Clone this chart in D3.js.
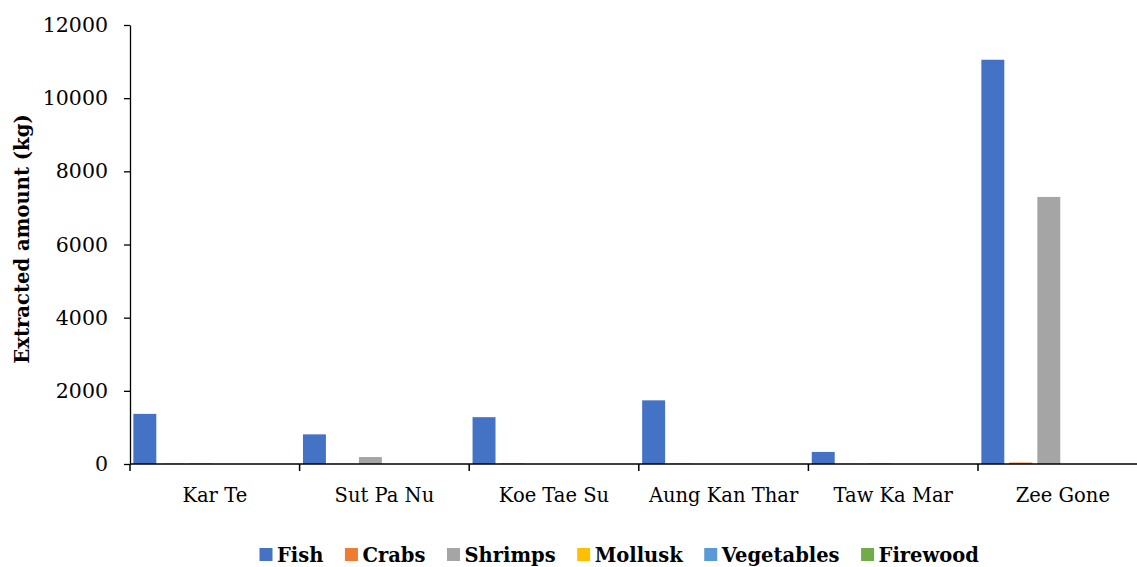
<!DOCTYPE html>
<html>
<head>
<meta charset="utf-8">
<script src="https://cdn.jsdelivr.net/npm/d3@7"></script>
<style>
  html, body { margin: 0; padding: 0; background: #fff; }
  svg { display: block; }
</style>
</head>
<body>
<svg id="chart" width="1137" height="567"></svg>
<script>
// Extracted amount per village and resource type (kg)
const villages = ["Kar Te", "Sut Pa Nu", "Koe Tae Su", "Aung Kan Thar", "Taw Ka Mar", "Zee Gone"];
const seriesNames = ["Fish", "Crabs", "Shrimps", "Mollusk", "Vegetables", "Firewood"];
const fish       = [1370, 810, 1280, 1740, 330, 11050];
const crabs      = [10, 5, 15, 15, 5, 40];
const shrimps    = [15, 190, 0, 0, 15, 7300];
const mollusk    = [0, 0, 0, 0, 0, 0];
const vegetables = [0, 0, 0, 0, 0, 0];
const firewood   = [0, 0, 0, 0, 0, 0];
const yTicks = [0, 2000, 4000, 6000, 8000, 10000, 12000];
const colors = ["#4472C4", "#ED7D31", "#A5A5A5", "#FFC000", "#5B9BD5", "#70AD47"];

const seriesValues = [fish, crabs, shrimps, mollusk, vegetables, firewood];

const svg = d3.select("#chart");
const plotLeft = 130, plotTop = 25, plotBottom = 464;
const bandW = 169.6;

const x = d3.scaleBand().domain(villages).range([plotLeft, plotLeft + bandW * villages.length]).padding(0);
const xs = d3.scaleBand().domain(seriesNames).range([0, x.bandwidth()]).paddingInner(0.18).paddingOuter(0.12);
const y = d3.scaleLinear().domain([0, 12000]).range([plotBottom, plotTop]);

const serif = "'DejaVu Serif', 'Liberation Serif', serif";

// bars
const groups = svg.append("g").selectAll("g").data(villages).join("g")
  .attr("transform", d => `translate(${x(d)},0)`);
groups.selectAll("rect")
  .data((v, i) => seriesNames.map((s, j) => ({ s, j, value: seriesValues[j][i] })))
  .join("rect")
  .attr("x", d => xs(d.s))
  .attr("width", xs.bandwidth())
  .attr("y", d => y(d.value))
  .attr("height", d => y(0) - y(d.value))
  .attr("fill", d => colors[d.j]);

// y axis
const yAxis = svg.append("g")
  .attr("transform", `translate(${plotLeft},0)`)
  .call(d3.axisLeft(y).tickValues(yTicks).tickFormat(d3.format("d")).tickSize(6).tickSizeOuter(0).tickPadding(16));
yAxis.select(".domain").attr("stroke", "#000").attr("stroke-width", 1.3);
yAxis.selectAll(".tick line").attr("stroke", "#000").attr("stroke-width", 1.3);
yAxis.selectAll(".tick text").attr("font-family", serif).attr("font-size", 20.5).attr("fill", "#000");

// x axis: category boundaries as ticks, labels centered in each band
const xAxisG = svg.append("g").attr("transform", `translate(0,${plotBottom})`);
xAxisG.append("line")
  .attr("x1", plotLeft).attr("x2", x.range()[1])
  .attr("stroke", "#000").attr("stroke-width", 1.5);
const bounds = villages.map(v => x(v)).concat([x.range()[1]]);
xAxisG.selectAll("line.tk").data(bounds).join("line")
  .attr("class", "tk")
  .attr("x1", d => d).attr("x2", d => d)
  .attr("y1", 0).attr("y2", 7)
  .attr("stroke", "#000").attr("stroke-width", 1.5);
xAxisG.selectAll("text").data(villages).join("text")
  .attr("x", d => x(d) + x.bandwidth() / 2)
  .attr("y", 38)
  .attr("text-anchor", "middle")
  .attr("font-family", serif).attr("font-size", 19.5)
  .attr("fill", "#000")
  .text(d => d);

// y axis title
svg.append("text")
  .attr("transform", "translate(29,239) rotate(-90)")
  .attr("text-anchor", "middle")
  .attr("font-family", serif).attr("font-size", 19.6).attr("font-weight", "bold")
  .attr("fill", "#000")
  .text("Extracted amount (kg)");

// legend
const legend = svg.append("g").attr("transform", "translate(259.5,562)");
let cx = 0;
seriesNames.forEach((name, i) => {
  const item = legend.append("g").attr("transform", `translate(${cx},0)`);
  item.append("rect").attr("x", 0).attr("y", -14).attr("width", 13).attr("height", 13).attr("fill", colors[i]);
  const t = item.append("text")
    .attr("x", 17.5).attr("y", 0)
    .attr("font-family", serif).attr("font-size", 19.5).attr("font-weight", "bold")
    .attr("fill", "#000")
    .text(name);
  cx += 17.5 + t.node().getComputedTextLength() + 21.5;
});
</script>
</body>
</html>
